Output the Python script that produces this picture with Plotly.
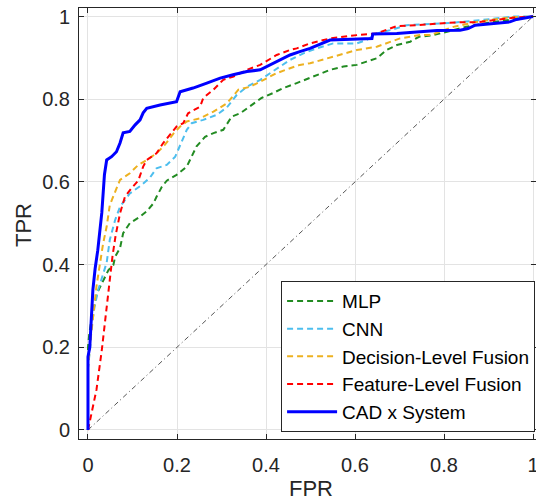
import plotly.graph_objects as go

# ---- data ----
mlp_fpr = [0, 0, 0.003, 0.01, 0.02, 0.034, 0.046, 0.057, 0.061, 0.072, 0.079, 0.094, 0.117, 0.132, 0.147, 0.154, 0.166, 0.177, 0.199, 0.222, 0.244, 0.263, 0.282, 0.304, 0.323, 0.342, 0.364, 0.39, 0.416, 0.439, 0.469, 0.488, 0.514, 0.544, 0.574, 0.604, 0.626, 0.649, 0.671, 0.694, 0.724, 0.744, 0.776, 0.85, 0.9, 0.95, 1.0]
mlp_tpr = [0, 0.2, 0.234, 0.28, 0.33, 0.363, 0.387, 0.399, 0.419, 0.44, 0.476, 0.5, 0.516, 0.529, 0.548, 0.564, 0.588, 0.603, 0.617, 0.637, 0.686, 0.709, 0.718, 0.726, 0.758, 0.766, 0.782, 0.803, 0.815, 0.827, 0.839, 0.847, 0.859, 0.871, 0.879, 0.883, 0.891, 0.899, 0.919, 0.931, 0.939, 0.951, 0.955, 0.975, 0.985, 0.993, 1.0]

cnn_fpr = [0, 0, 0.005, 0.008, 0.015, 0.023, 0.031, 0.042, 0.049, 0.061, 0.072, 0.094, 0.12, 0.139, 0.154, 0.177, 0.196, 0.207, 0.222, 0.233, 0.259, 0.289, 0.312, 0.334, 0.357, 0.387, 0.409, 0.431, 0.454, 0.484, 0.514, 0.551, 0.604, 0.626, 0.649, 0.679, 0.716, 0.769, 0.821, 0.888, 0.918, 0.956, 1.0]
cnn_tpr = [0, 0.15, 0.2, 0.25, 0.3, 0.339, 0.367, 0.405, 0.46, 0.508, 0.54, 0.572, 0.592, 0.61, 0.633, 0.641, 0.661, 0.69, 0.726, 0.742, 0.75, 0.762, 0.78, 0.81, 0.83, 0.847, 0.863, 0.879, 0.895, 0.911, 0.923, 0.935, 0.935, 0.943, 0.959, 0.967, 0.979, 0.982, 0.985, 0.992, 0.996, 1.0, 1.0]

dec_fpr = [0, 0, 0.006, 0.012, 0.019, 0.027, 0.034, 0.042, 0.049, 0.061, 0.072, 0.094, 0.113, 0.132, 0.154, 0.173, 0.192, 0.207, 0.222, 0.252, 0.282, 0.312, 0.338, 0.364, 0.387, 0.424, 0.454, 0.476, 0.499, 0.551, 0.604, 0.649, 0.671, 0.701, 0.746, 0.769, 0.821, 0.873, 0.948, 1.0]
dec_tpr = [0, 0.15, 0.22, 0.282, 0.347, 0.403, 0.451, 0.492, 0.544, 0.576, 0.605, 0.621, 0.641, 0.653, 0.669, 0.69, 0.717, 0.734, 0.746, 0.754, 0.77, 0.79, 0.823, 0.83, 0.843, 0.863, 0.875, 0.883, 0.887, 0.903, 0.919, 0.927, 0.935, 0.947, 0.955, 0.955, 0.975, 0.987, 0.998, 1.0]

feat_fpr = [0, 0.019, 0.031, 0.042, 0.048, 0.055, 0.062, 0.072, 0.083, 0.098, 0.113, 0.124, 0.132, 0.154, 0.169, 0.184, 0.199, 0.214, 0.222, 0.225, 0.252, 0.259, 0.282, 0.304, 0.327, 0.357, 0.387, 0.424, 0.454, 0.469, 0.499, 0.544, 0.604, 0.649, 0.694, 0.739, 0.798, 0.836, 0.873, 0.918, 0.963, 1.0]
feat_tpr = [0, 0.097, 0.193, 0.3, 0.363, 0.42, 0.47, 0.524, 0.564, 0.585, 0.603, 0.637, 0.653, 0.669, 0.694, 0.714, 0.734, 0.742, 0.758, 0.766, 0.782, 0.803, 0.823, 0.847, 0.855, 0.871, 0.883, 0.907, 0.919, 0.923, 0.935, 0.947, 0.955, 0.959, 0.977, 0.979, 0.984, 0.986, 0.986, 0.992, 0.998, 1.0]

cad_fpr = [0, 0, 0.004, 0.007, 0.011, 0.016, 0.022, 0.031, 0.036, 0.037, 0.042, 0.053, 0.064, 0.072, 0.079, 0.094, 0.106, 0.117, 0.124, 0.132, 0.162, 0.199, 0.207, 0.236, 0.267, 0.297, 0.326, 0.357, 0.387, 0.409, 0.431, 0.454, 0.476, 0.499, 0.544, 0.589, 0.638, 0.640, 0.694, 0.746, 0.784, 0.836, 0.854, 0.870, 0.910, 0.948, 0.963, 1.0]
cad_tpr = [0, 0.177, 0.2, 0.274, 0.339, 0.39, 0.435, 0.525, 0.605, 0.618, 0.653, 0.661, 0.673, 0.694, 0.719, 0.722, 0.738, 0.75, 0.767, 0.778, 0.786, 0.794, 0.818, 0.827, 0.839, 0.851, 0.859, 0.867, 0.871, 0.883, 0.895, 0.907, 0.915, 0.923, 0.943, 0.945, 0.947, 0.958, 0.959, 0.963, 0.966, 0.967, 0.971, 0.979, 0.984, 0.987, 0.993, 1.0]

chance_x = [0, 1]
chance_y = [0, 1]

tick_vals = [0, 0.2, 0.4, 0.6, 0.8, 1]
tick_text = ["0", "0.2", "0.4", "0.6", "0.8", "1"]

FONT = "Arial, 'Liberation Sans', Helvetica, sans-serif"
AX = "#262626"

fig = go.Figure()
fig.add_trace(go.Scatter(x=chance_x, y=chance_y, mode="lines", showlegend=False,
                         line=dict(color="#555555", width=1, dash="5px,3px,1px,3px"), hoverinfo="skip"))

series = [
    ("MLP", mlp_fpr, mlp_tpr, "#228B22", 2, "6px,4px"),
    ("CNN", cnn_fpr, cnn_tpr, "#4DBEEE", 2, "6px,4px"),
    ("Decision-Level Fusion", dec_fpr, dec_tpr, "#EDB120", 2, "6px,4px"),
    ("Feature-Level Fusion", feat_fpr, feat_tpr, "#FF0000", 2, "6px,4px"),
    ("CAD x System", cad_fpr, cad_tpr, "#0000FF", 3, "solid"),
]
for name, xs, ys, col, w, d in series:
    fig.add_trace(go.Scatter(x=xs, y=ys, mode="lines", name=name,
                             line=dict(color=col, width=w, dash=d)))

axis_common = dict(
    tickvals=tick_vals, ticktext=tick_text,
    showgrid=True, gridcolor="#e3e3e3", gridwidth=1,
    zeroline=False, showline=True, linecolor=AX, linewidth=1,
    mirror="ticks", ticks="inside", ticklen=5, tickcolor=AX,
    tickfont=dict(family=FONT, size=20, color=AX),
    ticklabeloverflow="allow", automargin=False,
)

fig.update_layout(
    width=536, height=501,
    margin=dict(l=79, r=0, t=8, b=62, autoexpand=False),
    paper_bgcolor="white", plot_bgcolor="white",
    font=dict(family=FONT, color=AX),
    xaxis=dict(range=[-0.0202, 1.0067], ticklabelstandoff=8, **axis_common),
    yaxis=dict(range=[-0.0218, 1.0206], ticklabelstandoff=4, **axis_common),
    legend=dict(x=0.998, xanchor="right", y=0.016, yanchor="bottom",
                bgcolor="white", bordercolor=AX, borderwidth=1,
                font=dict(family=FONT, size=19, color="black"),
                tracegroupgap=0, itemwidth=50),
    annotations=[
        dict(text="FPR", xref="paper", yref="paper", x=0.507, y=-0.114,
             xanchor="center", yanchor="middle", showarrow=False,
             font=dict(family=FONT, size=22, color=AX)),
        dict(text="TPR", xref="paper", yref="paper", x=-0.1225, y=0.4965,
             xanchor="center", yanchor="middle", showarrow=False, textangle=-90,
             font=dict(family=FONT, size=22, color=AX)),
    ],
)

fig.write_html("out.html", config={"displayModeBar": False},
               post_script="document.body.style.margin='0';document.body.style.padding='0';document.body.style.overflow='hidden';")
